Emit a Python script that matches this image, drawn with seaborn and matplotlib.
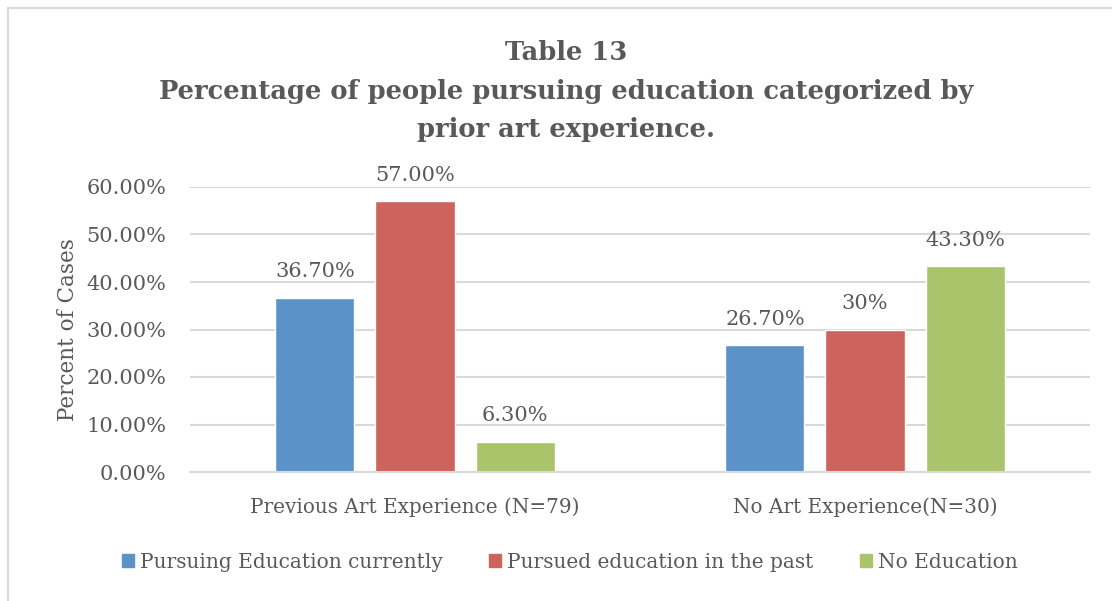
import matplotlib
matplotlib.use("Agg")
import matplotlib.pyplot as plt
import matplotlib.patches as mpatches
import pandas as pd
import seaborn as sns

# data
groups = ["Previous Art Experience (N=79)", "No Art Experience(N=30)"]
series = ["Pursuing Education currently", "Pursued education in the past", "No Education"]
pursuing_now = [36.7, 26.7]
pursued_past = [57.0, 30.0]
no_education = [6.3, 43.3]
bar_labels = [["36.70%", "26.70%"], ["57.00%", "30%"], ["6.30%", "43.30%"]]
y_ticks = [0, 10, 20, 30, 40, 50, 60]

colors = ["#5B93C9", "#CC645D", "#A9C46A"]
text_color = "#595959"
grid_color = "#D9D9D9"

df = pd.DataFrame({
    "group": groups * 3,
    "series": [s for s in series for _ in groups],
    "value": pursuing_now + pursued_past + no_education,
})

sns.set_style("white")
plt.rcParams["font.family"] = ["DejaVu Serif"]

fig = plt.figure(figsize=(11.12, 6.01), dpi=100)
ax = fig.add_axes([190 / 1112, 129 / 601, 900 / 1112, 285 / 601])

sns.barplot(data=df, x="group", y="value", hue="series", order=groups,
            hue_order=series, palette=colors, width=0.667, gap=0.21,
            saturation=1, ax=ax, legend=False)

for cont, labels in zip(ax.containers, bar_labels):
    ax.bar_label(cont, labels=labels, padding=12, fontsize=15, color=text_color)

ax.set_xlim(-0.5, 1.5)
ax.set_ylim(0, 60)
ax.set_yticks(y_ticks)
ax.set_yticklabels([f"{t:.2f}%" for t in y_ticks])
ax.yaxis.grid(True, color=grid_color, linewidth=1.5)
ax.set_axisbelow(True)
for side in ["top", "right", "left"]:
    ax.spines[side].set_visible(False)
ax.spines["bottom"].set_color(grid_color)
ax.spines["bottom"].set_linewidth(1.5)
ax.tick_params(axis="both", length=0, colors=text_color)
ax.tick_params(axis="x", pad=18, labelsize=14.4)
ax.tick_params(axis="y", pad=17, labelsize=15)
ax.set_xlabel("")
ax.set_ylabel("Percent of Cases", fontsize=15.5, color=text_color, labelpad=5)

fig.text(566 / 1112, 1 - 91 / 601, "Table 13\nPercentage of people pursuing education categorized by\nprior art experience.",
         ha="center", va="center", fontsize=18.5, fontweight="bold", color=text_color,
         linespacing=1.65)

handles = [mpatches.Patch(color=c, label=s) for c, s in zip(colors, series)]
fig.legend(handles=handles, loc="center", bbox_to_anchor=(570 / 1112, 1 - 562 / 601),
           ncol=3, frameon=False, fontsize=14.5, handlelength=0.6, handleheight=0.6,
           handletextpad=0.3, columnspacing=2.3, labelcolor=text_color)

# outer chart border (top and left edges visible)
fig.add_artist(plt.Line2D([8 / 1112, 1], [1 - 8 / 601, 1 - 8 / 601], color=grid_color, linewidth=1.5))
fig.add_artist(plt.Line2D([8 / 1112, 8 / 1112], [0, 1 - 8 / 601], color=grid_color, linewidth=1.5))

fig.savefig("out.png", dpi=100)
